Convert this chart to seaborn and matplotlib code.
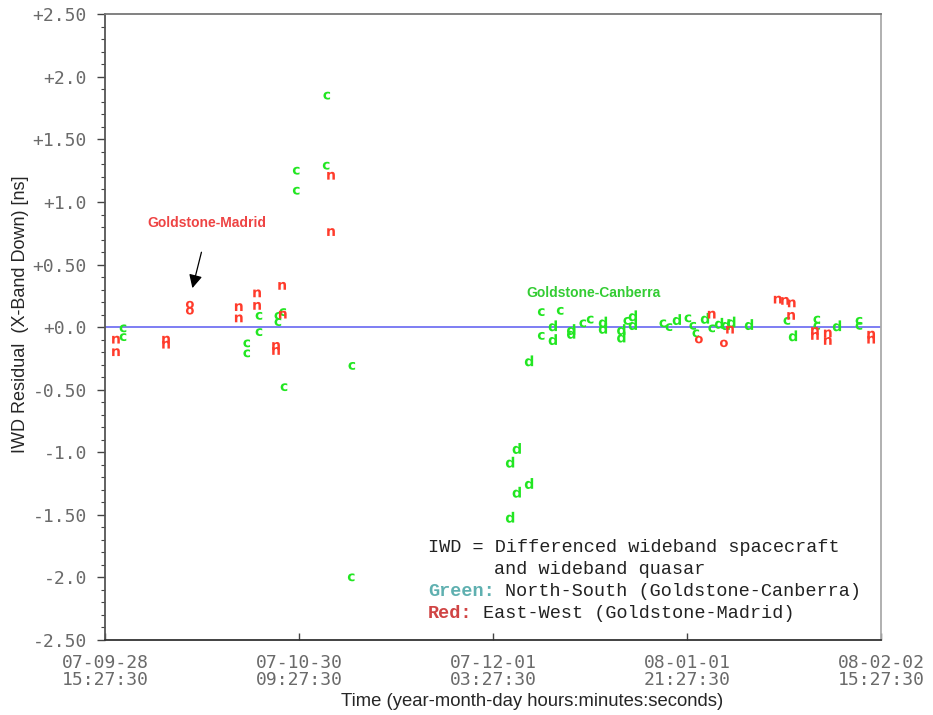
import pandas as pd
import matplotlib
matplotlib.use("Agg")
import matplotlib.pyplot as plt
import matplotlib.dates as mdates
from matplotlib.ticker import MultipleLocator, FixedLocator, FixedFormatter
import seaborn as sns

# start of the time axis and tick spacing (31.75 days)
start = pd.Timestamp("2007-09-28 15:27:30")
tick_days = [0, 31.75, 63.5, 95.25, 127]

# North-South (Goldstone-Canberra) residuals: days after start, value [ns], letter
green_days = [2.95, 2.95, 23.2, 23.2, 25.2, 25.2, 28.3, 28.3, 29.1, 29.3,
              31.3, 31.3, 36.2, 36.3, 40.4, 40.3,
              66.3, 66.3, 67.4, 67.4, 69.4, 69.4, 71.4, 71.4, 74.5, 73.3,
              73.3, 76.3, 76.3, 78.2, 79.4, 81.5, 81.5, 84.5, 84.5, 85.4,
              86.4, 86.4, 91.3, 92.3, 93.6, 95.4, 96.2, 96.7, 98.2, 99.3,
              100.5, 101.6, 102.5, 105.4, 111.6, 112.6, 116.5, 116.5, 119.8,
              123.4, 123.4]
green_vals = [-0.01, -0.08, -0.13, -0.21, 0.09, -0.04, 0.09, 0.04, 0.12, -0.48,
              1.25, 1.09, 1.29, 1.85, -0.31, -2.00,
              -1.52, -1.08, -0.97, -1.32, -1.25, -0.27, 0.12, -0.07, 0.13, 0.01,
              -0.10, -0.02, -0.05, 0.03, 0.06, 0.04, -0.01, -0.02, -0.08, 0.05,
              0.09, 0.02, 0.03, 0.00, 0.06, 0.07, 0.01, -0.05, 0.07, -0.01,
              0.03, 0.02, 0.04, 0.02, 0.05, -0.07, 0.06, 0.01, 0.01,
              0.05, 0.01]
green_marks = ["c"] * 16 + ["d"] * 6 + ["c", "c", "c", "d", "d", "d", "d", "c",
               "c", "d", "d", "d", "d", "c", "d", "d", "c", "c", "d", "c", "c",
               "c", "d", "c", "d", "d", "d", "d", "c", "d", "c", "c", "d", "c", "c"]

# East-West (Goldstone-Madrid) residuals
red_days = [1.8, 1.8, 10.0, 10.0, 13.9, 13.9, 21.9, 21.9, 24.9, 24.9,
            28.0, 28.0, 29.0, 29.1, 37.0, 37.0,
            97.2, 99.3, 102.3, 101.3, 110.1, 111.3, 112.4, 112.3, 116.2, 116.2,
            118.3, 118.3, 125.4, 125.4]
red_vals = [-0.10, -0.20, -0.10, -0.14, 0.18, 0.13, 0.16, 0.07, 0.27, 0.17,
            -0.15, -0.19, 0.33, 0.10, 1.21, 0.76,
            -0.10, 0.10, -0.02, -0.13, 0.22, 0.21, 0.19, 0.09, -0.03, -0.07,
            -0.05, -0.11, -0.06, -0.10]
red_marks = ["n", "n", "n", "n", "o", "o", "n", "n", "n", "n",
             "n", "n", "n", "n", "n", "n",
             "o", "n", "n", "o", "n", "n", "n", "n", "n", "n",
             "n", "n", "n", "n"]

ytick_vals = [2.5, 2.0, 1.5, 1.0, 0.5, 0.0, -0.5, -1.0, -1.5, -2.0, -2.5]
ytick_labels = ["+2.50", "+2.0", "+1.50", "+1.0", "+0.50", "+0.0",
                "-0.50", "-1.0", "-1.50", "-2.0", "-2.50"]

df = pd.DataFrame({
    "day": green_days + red_days,
    "value": green_vals + red_vals,
    "letter": green_marks + red_marks,
    "group": ["NS"] * len(green_days) + ["EW"] * len(red_days),
})
df["time"] = start + pd.to_timedelta(df["day"], unit="D")

sns.set_style("white")
plt.rcParams["font.family"] = ["Liberation Sans", "DejaVu Sans"]
plt.rcParams["mathtext.fontset"] = "dejavusans"

fig = plt.figure(figsize=(9.33, 7.15), dpi=100)
ax = fig.add_axes([0.1125, 0.105, 0.8317, 0.875])

ax.axhline(0, color="#5a5af0", lw=1.1, zorder=1)

sns.scatterplot(data=df, x="time", y="value", hue="group", style="letter",
                size="letter", ax=ax, legend=False, edgecolor="none", zorder=3,
                palette={"NS": "#22e622", "EW": "#ff3b2b"},
                markers={"c": r"$\mathbf{c}$", "d": r"$\mathbf{d}$",
                         "n": r"$\mathbf{n}$", "o": r"$\mathbf{o}$"},
                sizes={"c": 32, "n": 32, "o": 32, "d": 62})

# axes limits and ticks
ax.set_xlim(start, start + pd.Timedelta(days=127))
ax.set_ylim(-2.5, 2.5)
ax.set_xticks([start + pd.Timedelta(days=d) for d in tick_days])
ax.xaxis.set_major_formatter(mdates.DateFormatter("%y-%m-%d\n%H:%M:%S"))
ax.yaxis.set_major_locator(FixedLocator(ytick_vals))
ax.yaxis.set_major_formatter(FixedFormatter(ytick_labels))
ax.yaxis.set_minor_locator(MultipleLocator(0.1))

for lab in ax.get_xticklabels() + ax.get_yticklabels():
    lab.set_family("DejaVu Sans Mono")
    lab.set_color("#6a6a6a")
    lab.set_fontsize(13)
for lab in ax.get_xticklabels():
    lab.set_linespacing(0.95)

ax.tick_params(axis="y", which="major", direction="out", length=6, width=1,
               color="#444444", pad=7, left=True)
ax.tick_params(axis="y", which="minor", direction="out", length=3, width=0.8,
               color="#444444", left=True)
ax.tick_params(axis="x", which="major", direction="in", length=5, width=1,
               color="#444444", pad=10, bottom=True)

for side, col in [("left", "#555555"), ("bottom", "#333333"),
                  ("top", "#777777"), ("right", "#aaaaaa")]:
    ax.spines[side].set_visible(True)
    ax.spines[side].set_color(col)
    ax.spines[side].set_linewidth(1.3)

ax.set_xlabel("Time (year-month-day hours:minutes:seconds)", fontsize=13.3)
ax.set_ylabel("IWD Residual  (X-Band Down) [ns]", fontsize=13)
ax.xaxis.set_label_coords(0.55, -0.085)
ax.yaxis.set_label_coords(-0.098, 0.52)

# station annotations
ax.text(start + pd.Timedelta(days=16.6), 0.83, "Goldstone-Madrid", color="#ee4444",
        fontsize=10, fontweight="bold", ha="center", va="center")
ax.annotate("", xy=(start + pd.Timedelta(days=14.2), 0.29),
            xytext=(start + pd.Timedelta(days=15.9), 0.62),
            arrowprops=dict(arrowstyle="-|>", color="black", lw=0.9,
                            mutation_scale=20))
ax.text(start + pd.Timedelta(days=80.0), 0.27, "Goldstone-Canberra", color="#33cc33",
        fontsize=10, fontweight="bold", ha="center", va="center")

# explanation block (monospace, colored keywords then the rest shifted by whole characters)
fs = 13.3
char_w = 0.6 * fs * 100 / 72 / 776  # one character in axes units
x0 = 0.416
mono = dict(family="Liberation Mono", fontsize=fs, va="center", transform=ax.transAxes)
ax.text(x0, 0.147, "IWD = Differenced wideband spacecraft", color="#222222", **mono)
ax.text(x0 + 6 * char_w, 0.112, "and wideband quasar", color="#222222", **mono)
ax.text(x0, 0.077, "Green:", color="#5fb0b0", fontweight="bold", **mono)
ax.text(x0 + 7 * char_w, 0.077, "North-South (Goldstone-Canberra)", color="#222222", **mono)
ax.text(x0, 0.042, "Red:", color="#d04444", fontweight="bold", **mono)
ax.text(x0 + 5 * char_w, 0.042, "East-West (Goldstone-Madrid)", color="#222222", **mono)

plt.savefig("out.png", dpi=100)
